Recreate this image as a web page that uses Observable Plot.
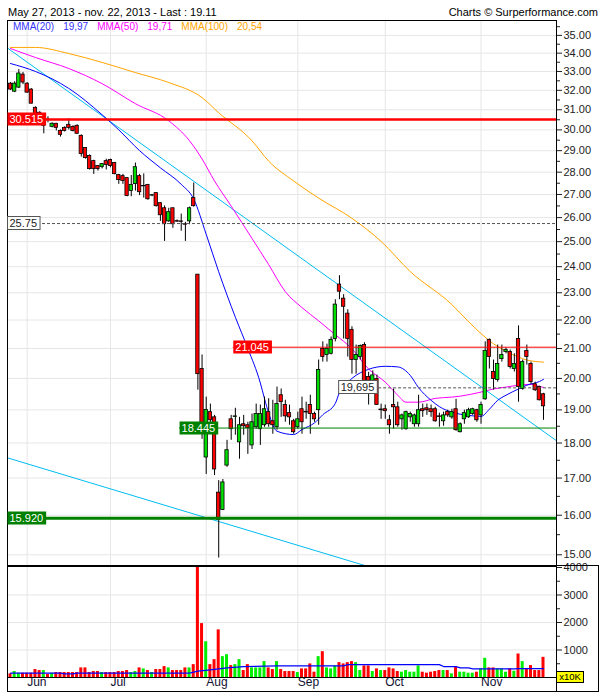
<!DOCTYPE html>
<html>
<head>
<meta charset="utf-8">
<script src="https://cdn.jsdelivr.net/npm/d3@7"></script>
<script src="https://cdn.jsdelivr.net/npm/@observablehq/plot@0.6"></script>
<style>
  html, body { margin: 0; padding: 0; background: #fff; }
  #chart { position: relative; width: 605px; height: 700px; font-family: "Liberation Sans", Arial, sans-serif; color: #000; overflow: hidden; }
  #title { position: absolute; left: 8px; top: 6px; font-size: 11px; line-height: 13px; white-space: nowrap; }
  #credit { position: absolute; right: 7px; top: 6px; font-size: 11px; line-height: 13px; white-space: nowrap; }
  #price { position: absolute; left: 0; top: 19px; }
  #volume { position: absolute; left: 0; top: 566px; }
  #legend { position: absolute; left: 13px; top: 21px; font-size: 10px; line-height: 12px; white-space: nowrap; display: flex; gap: 9px; }
  #outer { position: absolute; left: 7px; top: 565px; width: 592px; height: 127px; border: 1px solid #000; box-sizing: border-box; pointer-events: none; }
  #band { position: absolute; left: 556px; top: 677px; width: 1px; height: 15px; background: #000; }
  #unit { position: absolute; left: 556px; top: 671px; width: 28px; height: 12px; background: #ffff00; border: 1px solid #000; box-sizing: border-box; font-size: 9.5px; line-height: 10px; text-align: center; }
  svg { display: block; }
</style>
</head>
<body>
<div id="chart">
  <div id="title"></div>
  <div id="credit"></div>
  <div id="price"></div>
  <div id="legend"></div>
  <div id="volume"></div>
  <div id="outer"></div>
  <div id="band"></div>
  <div id="unit"></div>
</div>
<script>
// ---------------- DATA ----------------
const titleText = "May 27, 2013 - nov. 22, 2013 - Last : 19.11";
const creditText = "Charts \u00A9 Surperformance.com";
const unitText = "x10K";
const firstDay = "2013-05-28";
const lastDay = "2013-11-22";
const monthNames = ["Jan","Feb","Mar","Apr","May","Jun","Jul","Aug","Sep","Oct","Nov","Dec"];

const open = [32.35,31.93,32.14,32.83,32.35,32.04,31.10,30.85,30.20,30.51,
30.15,30.30,29.95,30.10,30.25,30.15,30.20,29.71,29.13,28.75,
28.51,28.28,28.23,28.51,28.56,28.42,27.87,27.82,27.73,27.15,
27.46,27.82,27.36,27.42,26.95,27.06,26.62,26.40,25.84,26.40,
25.85,25.84,25.72,25.84,26.84,23.69,20.31,17.58,18.93,18.77,
16.60,16.14,17.35,18.71,18.78,18.02,18.56,18.53,17.93,18.47,
18.41,18.53,18.93,18.65,18.47,19.46,19.15,18.90,18.65,18.47,
19.02,18.94,19.15,18.87,18.99,20.99,20.78,20.82,21.33,23.31,
22.78,22.23,21.65,20.61,20.71,21.12,20.05,19.85,19.98,18.99,
19.02,18.68,19.15,19.08,18.71,18.41,18.77,18.56,18.56,19.02,
19.05,19.02,19.02,18.80,18.65,18.93,18.77,19.02,18.32,18.71,
18.77,18.87,18.99,18.83,19.33,21.30,20.21,19.95,20.64,20.88,
20.88,20.31,21.33,19.66,20.92,20.48,19.81,19.72,19.49];
const high = [32.41,32.45,33.10,32.95,32.40,32.09,31.15,30.90,30.60,30.65,
30.35,30.32,30.00,30.15,30.55,30.20,30.25,29.76,29.15,28.80,
28.55,28.30,28.40,28.60,28.60,28.45,27.90,27.90,27.75,27.85,
28.42,27.90,27.92,27.45,27.00,27.08,26.65,26.50,26.40,26.40,
25.90,26.15,25.80,26.45,27.51,23.69,20.78,19.40,19.18,18.83,
16.93,16.96,18.08,18.83,19.05,18.77,18.83,18.62,18.87,19.18,
19.15,19.40,19.35,19.30,19.72,19.66,19.30,19.15,18.71,18.93,
19.40,19.24,19.46,18.93,20.61,21.23,21.15,21.40,22.74,23.65,
22.93,22.37,21.76,21.12,21.12,21.20,20.20,20.25,20.11,19.18,
19.15,18.83,19.66,19.24,18.87,18.96,18.93,18.87,19.46,19.18,
19.18,19.15,19.08,18.90,18.93,18.99,19.02,19.33,18.60,18.99,
19.05,19.05,19.02,19.24,21.23,21.33,20.61,21.12,21.12,21.02,
20.95,20.82,21.79,20.61,21.12,20.54,19.88,19.75,19.52];
const low = [32.00,31.88,32.09,32.30,31.85,31.30,30.50,30.30,29.81,30.35,
30.10,29.95,29.65,29.90,30.00,29.90,29.78,28.70,28.60,28.10,
27.90,28.05,28.15,28.10,28.20,27.88,27.45,27.45,26.90,26.90,
27.15,26.95,26.84,26.75,26.90,26.45,25.84,25.01,25.80,25.55,
25.80,25.43,25.01,25.70,26.45,19.62,18.11,17.10,18.41,17.07,
14.92,16.12,17.30,18.08,18.23,17.53,18.23,17.67,17.81,18.41,
17.93,18.47,18.47,18.26,18.38,18.77,18.62,18.53,18.26,18.41,
18.26,18.71,18.26,18.62,18.53,20.54,20.54,20.78,21.23,22.74,
21.33,20.71,20.14,20.14,20.61,19.81,19.15,19.50,19.15,18.71,
18.71,18.26,18.41,18.47,18.38,18.38,18.62,18.47,18.47,18.77,
18.83,18.77,18.62,18.47,18.50,18.77,18.71,18.35,18.30,18.56,
18.74,18.83,18.62,18.56,19.30,20.31,19.62,19.88,20.54,20.82,
20.31,20.21,19.24,19.62,20.44,19.81,19.58,19.28,18.68];
const close = [32.04,32.35,32.89,32.41,31.88,31.31,30.70,30.40,30.45,30.49,
30.30,30.10,29.76,29.95,30.10,29.95,29.81,28.84,28.65,28.14,
28.14,28.14,28.37,28.33,28.28,27.91,27.64,27.60,26.93,27.42,
28.23,27.10,27.38,26.79,26.97,26.49,26.10,25.72,26.23,25.72,
25.83,25.82,25.70,26.40,26.49,20.14,18.32,19.00,18.68,17.24,
15.88,16.88,17.79,18.41,18.80,18.53,18.50,18.44,18.62,18.87,
18.87,19.02,18.56,18.53,19.18,19.24,18.80,18.77,18.32,18.71,
18.62,18.92,18.87,18.71,20.28,20.71,20.99,21.30,22.56,23.04,
22.48,21.33,20.61,20.78,21.09,19.88,19.80,20.10,19.15,19.01,
18.96,18.53,19.08,18.53,18.83,18.93,18.87,18.83,18.99,18.96,
18.99,18.93,18.65,18.78,18.83,18.83,18.93,18.38,18.56,18.90,
18.99,19.02,18.68,19.15,20.92,20.71,19.98,20.48,20.78,20.95,
20.38,20.48,19.72,20.54,20.71,19.88,19.62,19.30,19.11];
// volume, in units of 10K shares
const volume = [133,217,157,157,157,157,289,253,253,108,
157,181,181,181,181,181,181,349,349,181,
217,217,181,181,181,181,217,217,253,181,
217,349,313,253,181,289,289,397,349,253,
253,253,349,349,469,4018,1960,1300,469,650,
1733,758,830,433,469,650,253,469,349,349,
349,578,349,289,578,289,217,217,217,181,
313,313,494,193,758,939,349,313,421,541,
494,541,578,541,253,421,421,217,313,253,
253,349,313,217,193,253,193,193,421,193,
157,193,217,253,253,253,133,373,193,193,
157,157,193,313,698,349,349,313,313,193,
313,229,854,578,313,433,253,253,733];

// moving averages: [trading-day index, value]
const ma20 = [[0,33.43],[6,33.0],[14,32.1],[22,30.75],[26,30.0],[31,29.0],[36,28.2],[41,27.45],[44,26.8],[47,25.3],[50,23.8],[54,22.1],[57,21.0],[60,19.85],[61,19.35],[62,18.9],[64,18.35],[68,18.25],[70,18.4],[73,18.6],[75,18.85],[78,19.2],[79,19.55],[82,20.0],[86,20.3],[90,20.4],[93,20.38],[96,20.1],[98,19.7],[101,19.3],[103,19.1],[106,18.93],[110,18.83],[113,18.8],[115,19.02],[117,19.3],[119,19.46],[122,19.66],[124,19.78],[127,19.9],[128,19.97]];
const ma50 = [[0,34.26],[6,33.76],[14,33.16],[22,32.35],[30,31.31],[38,30.45],[43,29.47],[46,28.61],[49,27.6],[53,26.49],[58,25.13],[62,24.08],[66,23.04],[70,22.45],[74,21.97],[78,21.48],[82,20.99],[86,20.31],[90,19.88],[93,19.46],[95,19.24],[98,19.24],[102,19.36],[106,19.4],[108,19.43],[113,19.56],[116,19.66],[119,19.72],[122,19.78],[125,19.81],[127,19.74],[128,19.71]];
const ma100 = [[0,34.32],[6,34.32],[14,33.98],[22,33.49],[30,32.94],[38,32.41],[46,31.62],[50,30.85],[58,29.47],[62,28.51],[68,27.6],[74,26.84],[82,25.97],[89,25.01],[96,23.81],[106,22.56],[110,21.94],[116,21.16],[122,20.71],[124,20.61],[128,20.54]];
const volMA = [[0,157],[12,157],[13,133],[15,133],[16,157],[43,157],[45,229],[48,277],[52,349],[56,397],[64,421],[80,421],[81,469],[103,469],[104,397],[107,397],[108,349],[110,349],[111,313],[121,313],[122,325],[128,325]];

// trend lines: two anchor points each [index, price]
const trendUpper = [[-1,34.33],[132,17.99]];
const trendLower = [[-1,17.58],[132,13.39]];

// horizontal levels: value, label, starting trading-day index (null = from the left edge)
const levels = [
  {value: 30.515, label: "30.515", from: null, kind: "redMajor"},
  {value: 25.75,  label: "25.75",  from: null, kind: "mark"},
  {value: 21.045, label: "21.045", from: 53.5, kind: "red"},
  {value: 19.695, label: "19,695", from: 78.8, kind: "mark"},
  {value: 18.445, label: "18.445", from: 40.6, kind: "green"},
  {value: 15.92,  label: "15.920", from: null, kind: "greenMajor"}
];

const legendItems = [
  {name: "MMA(20)", value: "19,97", color: "#3333ff"},
  {name: "MMA(50)", value: "19,71", color: "#ff00ff"},
  {name: "MMA(100)", value: "20,54", color: "#ffa500"}
];

const priceTicks = [15,16,17,18,19,20,21,22,23,24,25,26,27,28,29,30,31,32,33,34,35];
const priceMinor = [15.5,16.5,17.5,18.5,19.5,20.5,21.5,22.5,23.5,24.5,25.5,26.5,27.5,28.5,29.5,30.5,31.5,32.5,33.5,34.5,35.5];
const volTicks = [1000,2000,3000,4000];
const volMinor = [500,1500,2500,3500];

// ---------------- BUILD ----------------
const days = [];
for (let t = Date.parse(firstDay + "T12:00:00Z"); t <= Date.parse(lastDay + "T12:00:00Z"); t += 864e5) {
  const d = new Date(t), w = d.getUTCDay();
  if (w !== 0 && w !== 6) days.push(d);
}
const candles = days.map((date, i) => ({
  i, date, open: open[i], high: high[i], low: low[i], close: close[i], volume: volume[i],
  up: close[i] >= open[i]
}));
const monthStarts = [];
days.forEach((d, i) => {
  if (i > 0 && d.getUTCMonth() !== days[i - 1].getUTCMonth()) monthStarts.push({i, label: monthNames[d.getUTCMonth()]});
});

const UP = "#00dd00", DOWN = "#ff0000", VUP = "#00ee00", VDOWN = "#ff0000";
const GRID = "#e6e6e6";
const FONT = '"Liberation Sans", Arial, sans-serif';
const xDomain = [-0.72, 131.12];
const priceDomain = [14.716, 35.861];
const levelStyle = {
  redMajor:   {line: "#ff0000", width: 2.5, dash: null, box: "#ff0000", border: "none", text: "#fff"},
  red:        {line: "#ff0000", width: 1, dash: null, box: "#ff0000", border: "none", text: "#fff"},
  green:      {line: "#008000", width: 1, dash: null, box: "#008000", border: "none", text: "#fff"},
  greenMajor: {line: "#008000", width: 3, dash: null, box: "#008000", border: "none", text: "#fff"},
  mark:       {line: "#555", width: 1, dash: "3,2", box: "#fff", border: "#555", text: "#222"}
};

document.getElementById("title").textContent = titleText;
document.getElementById("credit").textContent = creditText;
document.getElementById("unit").textContent = unitText;
const legend = document.getElementById("legend");
legendItems.forEach(it => {
  for (const s of [it.name, it.value]) {
    const span = document.createElement("span");
    span.textContent = s; span.style.color = it.color;
    legend.appendChild(span);
  }
});

const xy = (d) => d[0], yy = (d) => d[1];

const price = Plot.plot({
  width: 605, height: 547,
  marginLeft: 7, marginRight: 49, marginTop: 1, marginBottom: 0,
  style: {fontFamily: FONT, fontSize: "11px", background: "transparent", overflow: "visible"},
  x: {type: "linear", domain: xDomain, label: null, axis: null},
  y: {type: "log", domain: priceDomain, label: null},
  color: {type: "identity"},
  marks: [
    Plot.ruleY(priceTicks, {stroke: GRID}),
    Plot.ruleX(monthStarts, {x: "i", stroke: GRID}),
    Plot.line(trendUpper, {x: xy, y: yy, stroke: "#00bcf2", strokeWidth: 1, clip: true}),
    Plot.line(trendLower, {x: xy, y: yy, stroke: "#00bcf2", strokeWidth: 1, clip: true}),
    Plot.line(ma100, {x: xy, y: yy, stroke: "#ffa500", strokeWidth: 1, curve: "monotone-x"}),
    Plot.line(ma50, {x: xy, y: yy, stroke: "#ff00ff", strokeWidth: 1, curve: "monotone-x"}),
    Plot.line(ma20, {x: xy, y: yy, stroke: "#0000ff", strokeWidth: 1, curve: "monotone-x"}),
    Plot.ruleX(candles, {x: "i", y1: "low", y2: "high", stroke: "#000", strokeWidth: 1}),
    Plot.rect(candles, {x1: d => d.i - 0.4, x2: d => d.i + 0.4, y1: "open", y2: "close",
      fill: d => d.up ? UP : DOWN, stroke: "#000", strokeWidth: 0.8}),
    ...levels.map(L => {
      const st = levelStyle[L.kind];
      return Plot.ruleY([L], {y: "value", x1: d => d.from ?? xDomain[0], x2: () => xDomain[1],
        stroke: st.line, strokeWidth: st.width, strokeDasharray: st.dash});
    }),
    Plot.axisY({anchor: "right", ticks: priceTicks, tickSize: 5, tickPadding: 2,
      tickFormat: d => d.toFixed(2), label: null, color: "#222", fontSize: 11}),
    Plot.axisY({anchor: "right", ticks: priceMinor, tickSize: 3, tickFormat: () => "", label: null, color: "#222"}),
    Plot.frame({stroke: "#000"})
  ]
});
document.getElementById("price").appendChild(price);

// level labels, positioned through the same scales
const sx = price.scale("x"), sy = price.scale("y");
const X = (sx && sx.apply) ? (v => sx.apply(v)) : d3.scaleLinear().domain(xDomain).range([7, 556]);
const Y = (sy && sy.apply) ? (v => sy.apply(v)) : d3.scaleLog().domain(priceDomain).range([547, 1]);
const lg = d3.select(price).append("g")
  .attr("font-family", FONT).attr("font-size", 11).attr("text-anchor", "start");
levels.forEach(L => {
  const st = levelStyle[L.kind];
  const y = Y(L.value), x = X(L.from ?? xDomain[0]);
  const box = lg.append("rect");
  const t = lg.append("text").attr("x", x + 2.5).attr("y", y).attr("dy", "0.36em")
    .attr("text-anchor", "start").attr("fill", st.text).text(L.label);
  const w = t.node().getComputedTextLength() + 5;
  box.attr("x", x + 0.5).attr("y", Math.round(y) - 6.5).attr("width", w).attr("height", 13)
    .attr("fill", st.box).attr("stroke", st.border === "none" ? "none" : st.border);
});

const vol = Plot.plot({
  width: 605, height: 127,
  marginLeft: 7, marginRight: 49, marginTop: 0, marginBottom: 16,
  style: {fontFamily: FONT, fontSize: "11px", background: "transparent", overflow: "visible"},
  x: {type: "linear", domain: xDomain, label: null, axis: null},
  y: {domain: [0, 4036], label: null},
  color: {type: "identity"},
  marks: [
    Plot.ruleY([1000, 2000, 3000], {stroke: GRID}),
    Plot.ruleX(monthStarts, {x: "i", stroke: GRID}),
    Plot.rect(candles, {x1: d => d.i - 0.36, x2: d => d.i + 0.36, y1: () => 0, y2: "volume",
      fill: d => d.up ? VUP : VDOWN}),
    Plot.line(volMA, {x: xy, y: yy, stroke: "#0000ff", strokeWidth: 1.2}),
    Plot.axisY({anchor: "right", ticks: volTicks, tickSize: 5, tickPadding: 2,
      tickFormat: d => String(d), label: null, color: "#222", fontSize: 11}),
    Plot.axisY({anchor: "right", ticks: volMinor, tickSize: 3, tickFormat: () => "", label: null, color: "#222"}),
    Plot.text(monthStarts, {x: "i", text: "label", frameAnchor: "bottom", textAnchor: "start",
      dy: 8, fill: "#111133", fontSize: 12}),
    Plot.frame({stroke: "#000"})
  ]
});
document.getElementById("volume").appendChild(vol);
</script>
</body>
</html>
